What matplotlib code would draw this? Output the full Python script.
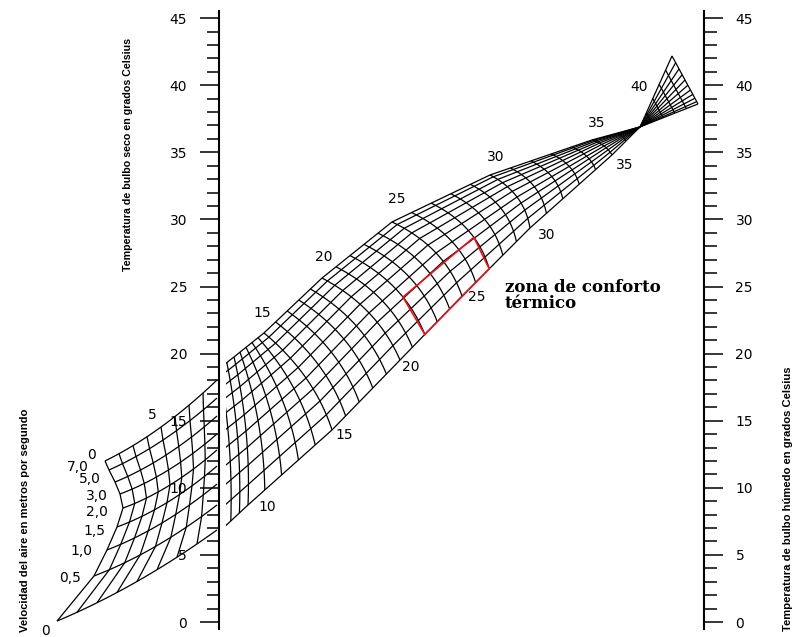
import numpy as np
import matplotlib
matplotlib.use("Agg")
import matplotlib.pyplot as plt
from matplotlib.collections import LineCollection
from matplotlib.patches import Rectangle

# ---------------- scales (dry bulb left, wet bulb right), degrees C ----------------
major_ticks = list(range(0, 46, 5))
minor_ticks = list(range(0, 46, 1))

# ---------------- main nomogram: effective-temperature grid ----------------
# nodes read from the picture along the lowest-speed edge, the middle and the highest-speed edge
et_nodes    = [5, 10, 15, 20, 25, 30, 35, 37, 42]
low_edge_x  = [205, 248, 332, 400, 462, 530, 612, 640, 672]
low_edge_y  = [5.74, 8.72, 14.31, 19.52, 24.29, 29.36, 34.80, 36.89, 42.18]
mid_x       = [204, 246, 306, 369, 436, 517, 604, 640, 685]
mid_y       = [11.70, 14.23, 18.18, 23.03, 27.50, 31.67, 35.47, 36.89, 40.39]
high_edge_x = [198, 234, 264, 322, 392, 490, 592, 640, 698]
high_edge_y = [17.66, 19.75, 21.54, 25.63, 29.81, 33.31, 35.92, 36.89, 38.60]
speed_lines = [0, 0.14, 0.27, 0.39, 0.50, 0.61, 0.71, 0.80, 0.88, 0.95, 1.0]
et_lines    = list(range(5, 43))

et_low_labels  = ["10", "15", "20", "25", "30", "35"]
et_low_pos     = [(267, 8.57), (344, 13.93), (411, 19.0), (477, 24.22), (547, 28.84), (625, 34.05)]
et_high_labels = ["15", "20", "25", "30", "35", "40"]
et_high_pos    = [(262, 23.03), (324, 27.2), (397, 31.52), (496, 34.65), (597, 37.18), (639, 39.87)]

comfort_et    = [22, 27]
comfort_speed = [0.0, 0.40]

# ---------------- air-speed scale grid (left) ----------------
speed_labels = ["0", "0,5", "1,0", "1,5", "2,0", "3,0", "5,0", "7,0", "0"]
sub_left_x   = [57, 94, 107, 117, 123, 120, 115, 109, 105]
sub_left_y   = [0.07, 3.43, 5.37, 7.08, 8.49, 9.54, 10.43, 11.33, 12.00]
sub_mid_x    = [137, 155.5, 162, 167, 170, 168.5, 166, 163, 161]
sub_mid_y    = [3.02, 5.63, 7.38, 8.90, 10.21, 11.33, 12.44, 13.56, 14.53]
sub_right_x  = [217, 217, 217, 217, 217, 217, 217, 217, 217]
sub_right_y  = [6.86, 8.72, 10.28, 11.62, 12.82, 14.01, 15.35, 16.69, 18.03]
sub_cross    = [0, 1/8, 2/8, 3/8, 4/8, 5/8, 6/8, 7/8]
speed_label_pos = [(46, -0.7), (70, 3.28), (81, 5.29), (94, 6.78), (97, 8.20),
                   (97, 9.39), (90, 10.66), (78, 11.55), (91, 12.45)]
sub_et_labels = ["5"]
sub_et_pos    = [(152, 15.42)]

titles = ["Temperatura de bulbo seco en grados Celsius",
          "Velocidad del aire en metros por segundo",
          "Temperatura de bulbo húmedo en grados Celsius"]


def quad(a, b, c, s):
    s = np.asarray(s, dtype=float)
    l0 = 2 * (s - 0.5) * (s - 1)
    l1 = -4 * s * (s - 1)
    l2 = 2 * s * (s - 0.5)
    return l0 * a + l1 * b + l2 * c


def main_point(et, f):
    bx = np.interp(et, et_nodes, low_edge_x); by = np.interp(et, et_nodes, low_edge_y)
    mx = np.interp(et, et_nodes, mid_x);      my = np.interp(et, et_nodes, mid_y)
    tx = np.interp(et, et_nodes, high_edge_x); ty = np.interp(et, et_nodes, high_edge_y)
    return quad(bx, mx, tx, f), quad(by, my, ty, f)


fig = plt.figure(figsize=(8.01, 6.37), dpi=100)
ax = fig.add_axes([0, 0, 1, 1])
ax.set_xlim(0, 801)
ax.set_ylim(-15 / 13.42, 622 / 13.42)

# main grid
segs = []
et_fine = np.linspace(et_nodes[0], et_nodes[-1], 600)
for f in speed_lines:
    x, y = main_point(et_fine, f)
    segs.append(np.column_stack([x, y]))
f_fine = np.linspace(0, 1, 60)
for et in et_lines:
    x, y = main_point(np.full_like(f_fine, et), f_fine)
    segs.append(np.column_stack([x, y]))
lc = LineCollection(segs, colors="black", linewidths=0.9)
ax.add_collection(lc)
clip = Rectangle((225.5, -5), 600, 60, transform=ax.transData)
lc.set_clip_path(clip)

# comfort zone (straight-sided quadrilateral between grid corners)
e0, e1 = comfort_et
s0, s1 = comfort_speed
cx, cy = main_point(np.array([e0, e1, e1, e0, e0]), np.array([s0, s0, s1, s1, s0]))
ax.plot(cx, cy, color="#e8141c", lw=1.2)

# air-speed grid
sl_x = np.array(sub_left_x); sl_y = np.array(sub_left_y)
sm_x = np.array(sub_mid_x); sm_y = np.array(sub_mid_y)
sr_x = np.array(sub_right_x); sr_y = np.array(sub_right_y)
segs2 = []
t_fine = np.linspace(0, 1, 40)
for i in range(len(sl_x)):
    segs2.append(np.column_stack([quad(sl_x[i], sm_x[i], sr_x[i], t_fine),
                                  quad(sl_y[i], sm_y[i], sr_y[i], t_fine)]))
for t in sub_cross:
    segs2.append(np.column_stack([quad(sl_x, sm_x, sr_x, t), quad(sl_y, sm_y, sr_y, t)]))
ax.add_collection(LineCollection(segs2, colors="black", linewidths=0.9))

# labels
num_font = dict(fontsize=10, family="DejaVu Sans", ha="center", va="center")
for s, (x, y) in zip(et_low_labels, et_low_pos):
    ax.text(x, y, s, **num_font)
for s, (x, y) in zip(et_high_labels, et_high_pos):
    ax.text(x, y, s, **num_font)
for s, (x, y) in zip(speed_labels, speed_label_pos):
    ax.text(x, y, s, **num_font)
for s, (x, y) in zip(sub_et_labels, sub_et_pos):
    ax.text(x, y, s, **num_font)

ax.text(505, 24.96, "zona de conforto", fontsize=12, family="DejaVu Serif",
        fontweight="bold", ha="left", va="center")
ax.text(505, 23.77, "térmico", fontsize=12, family="DejaVu Serif",
        fontweight="bold", ha="left", va="center")

title_font = dict(rotation=90, ha="center", va="center", fontsize=10,
                  family="Liberation Sans", fontweight="bold")
t1 = ax.text(128, 34.8, titles[0], **title_font)
t2 = ax.text(25, 7.6, titles[1], **title_font)
t3 = ax.text(788, 9.17, titles[2], **title_font)

# the two vertical scales
ax.spines["top"].set_visible(False)
ax.spines["bottom"].set_visible(False)
ax.spines["left"].set_position(("data", 219))
ax.spines["right"].set_position(("data", 703.5))
for side in ("left", "right"):
    ax.spines[side].set_bounds(-0.5, 45.5)
    ax.spines[side].set_linewidth(1.5)
ax.set_xticks([])
ax.set_yticks(major_ticks)
ax.set_yticks(minor_ticks, minor=True)
ax.set_yticklabels([str(v) for v in major_ticks])
ax.tick_params(axis="y", which="both", left=True, right=True, labelleft=True,
               labelright=True, direction="out", width=1.1)
ax.tick_params(axis="y", which="major", length=14, pad=9, labelsize=10)
ax.tick_params(axis="y", which="minor", length=9)
ax.patch.set_alpha(0)

# fit the rotated titles to their length in the reference
fig.canvas.draw()
rend = fig.canvas.get_renderer()
for t, target in ((t1, 232), (t2, 224), (t3, 266)):
    h = t.get_window_extent(rend).height
    t.set_fontsize(t.get_fontsize() * target / h)

fig.savefig("out.png", dpi=100)
